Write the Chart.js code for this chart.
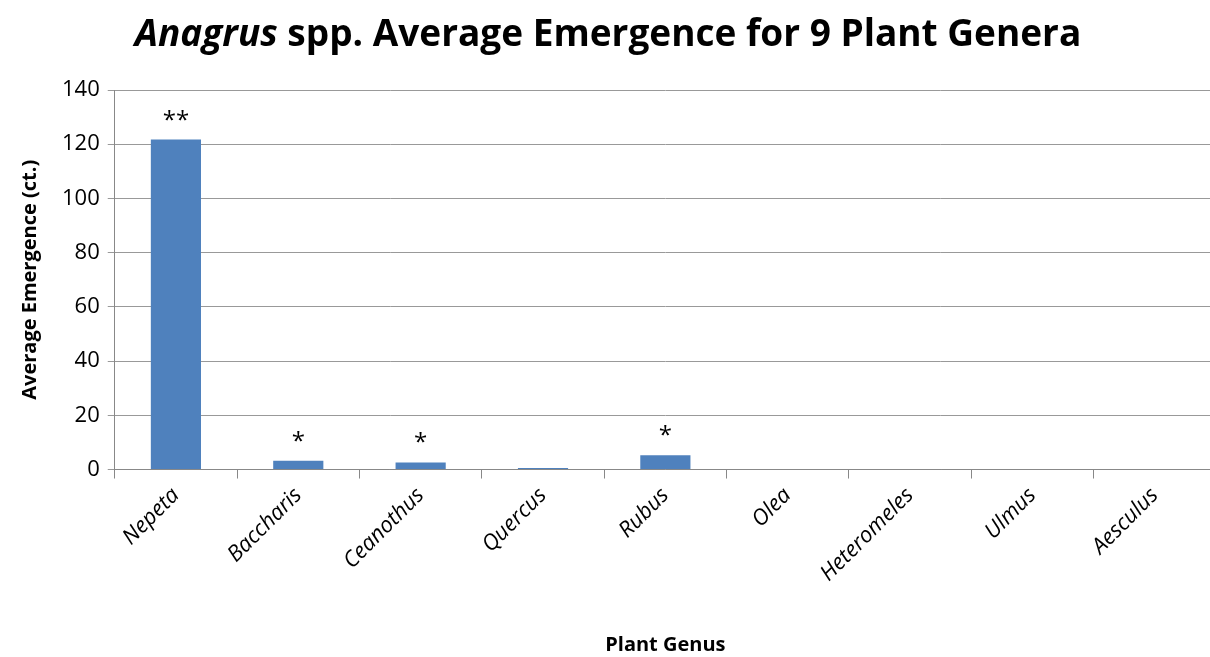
<!DOCTYPE html>
<html>
<head>
  <script src="https://cdn.jsdelivr.net/npm/chart.js@4"></script>
  <style>
    body { margin: 0; overflow: hidden; background: #fff; }
    #title { position: absolute; left: 0; top: 6px; width: 1216px; text-align: center;
             font-family: 'Open Sans', sans-serif; font-weight: bold; font-size: 37px; color: #000; }
    .chart-container { position: relative; width: 1216px; height: 657px; }
  </style>
</head>
<body>
  <div class="chart-container">
    <canvas id="myChart"></canvas>
  </div>
  <div id="title"><i>Anagrus</i> spp. Average Emergence for 9 Plant Genera</div>
  <script type="text/javascript">
    // data
    var genera = ['Nepeta', 'Baccharis', 'Ceanothus', 'Quercus', 'Rubus', 'Olea', 'Heteromeles', 'Ulmus', 'Aesculus'];
    var emergence = [121.7, 3.2, 2.6, 0.6, 5.3, 0, 0, 0, 0];
    var marks = ['**', '*', '*', '', '*', '', '', '', ''];
    var yTicks = [0, 20, 40, 60, 80, 100, 120, 140];

    // draw the significance stars over the bars
    var starPlugin = {
      id: 'stars',
      afterDatasetsDraw: function(chart) {
        var ctx = chart.ctx;
        var meta = chart.getDatasetMeta(0);
        ctx.save();
        ctx.fillStyle = '#000';
        ctx.font = '24px "Open Sans"';
        ctx.textAlign = 'center';
        ctx.textBaseline = 'alphabetic';
        meta.data.forEach(function(bar, i) {
          if (marks[i]) ctx.fillText(marks[i], bar.x, bar.y - 12);
        });
        ctx.restore();
      }
    };

    var ctx = document.getElementById('myChart').getContext('2d');
    var chart = new Chart(ctx, {
      type: 'bar',
      data: {
        labels: genera,
        datasets: [{
          data: emergence,
          backgroundColor: '#4f81bd',
          borderWidth: 0,
          barPercentage: 0.41,
          categoryPercentage: 1
        }]
      },
      plugins: [starPlugin],
      options: {
        responsive: true,
        maintainAspectRatio: false,
        animation: false,
        layout: { padding: { top: 90, right: 0, bottom: 0, left: 18 } },
        plugins: {
          legend: { display: false },
          tooltip: { enabled: false }
        },
        scales: {
          x: {
            grid: { display: true, offset: true, drawOnChartArea: false, color: '#888', tickLength: 9 },
            border: { color: '#888', width: 1 },
            ticks: {
              color: '#000', maxRotation: 45, minRotation: 45, padding: 4,
              font: { family: 'Open Sans', size: 22, style: 'italic' }
            },
            title: {
              display: true, text: 'Plant Genus', color: '#000', padding: { top: 42, bottom: 0 },
              font: { family: 'Open Sans', size: 20, weight: 'bold' }
            }
          },
          y: {
            min: 0, max: 140,
            afterBuildTicks: function(axis) { axis.ticks = yTicks.map(function(v) { return { value: v }; }); },
            grid: { color: '#999', tickLength: 7 },
            border: { color: '#888', width: 1 },
            ticks: {
              color: '#000', padding: 8,
              font: { family: 'Open Sans', size: 22 }
            },
            title: {
              display: true, text: 'Average Emergence (ct.)', color: '#000', padding: { top: 0, bottom: 12 },
              font: { family: 'Open Sans', size: 20, weight: 'bold' }
            }
          }
        }
      }
    });
  </script>
</body>
</html>
